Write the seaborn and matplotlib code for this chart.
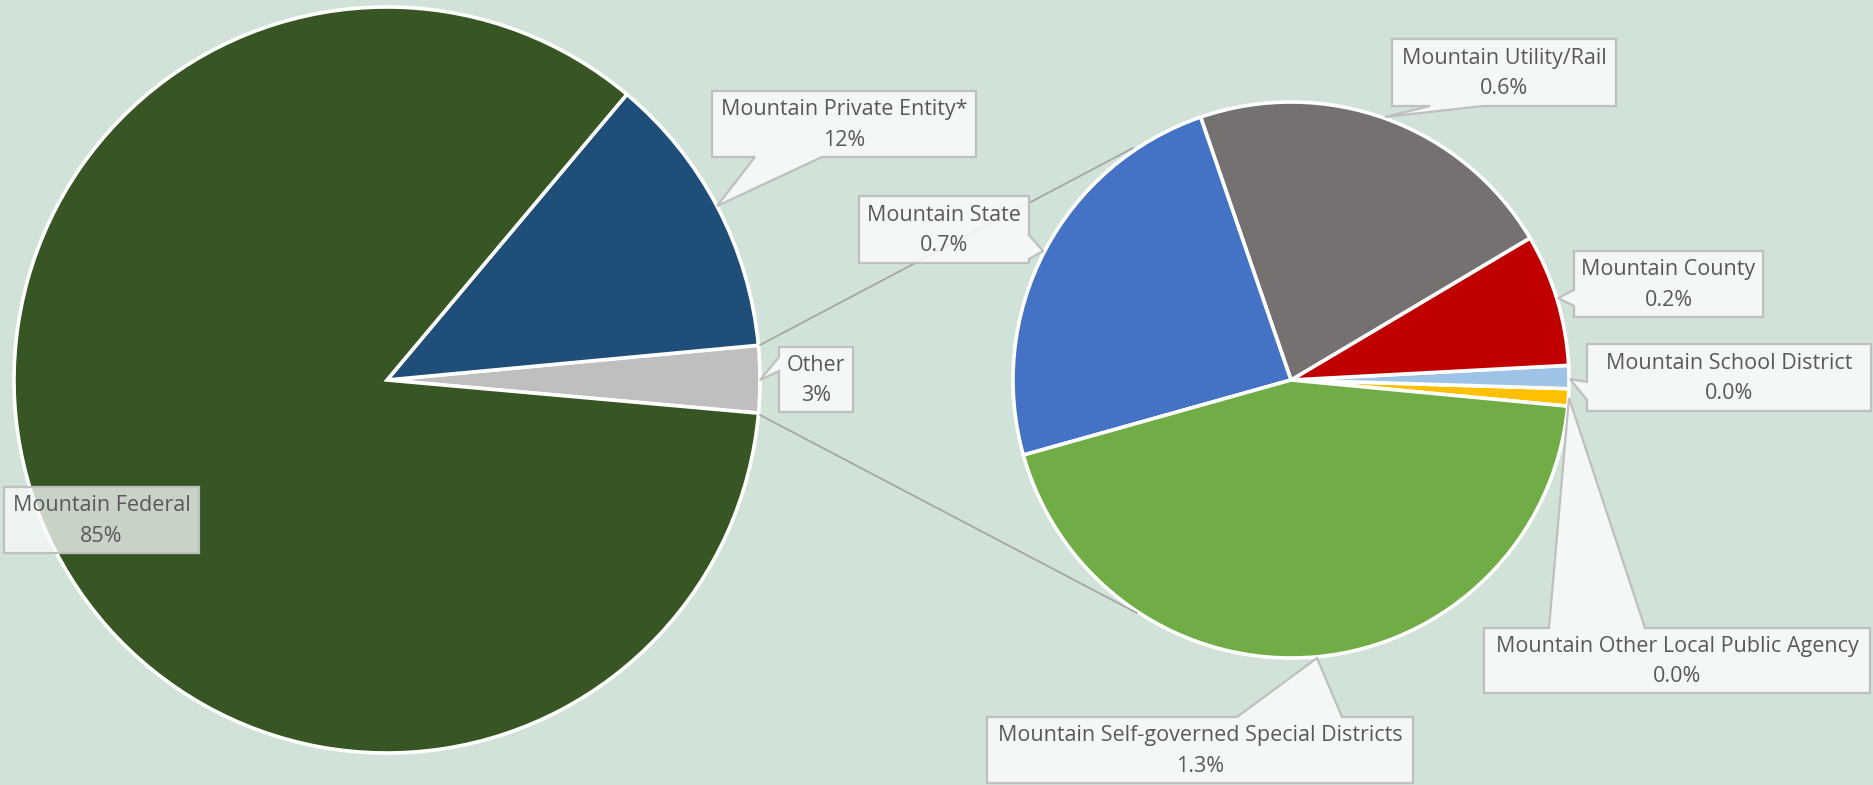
import numpy as np
import matplotlib
matplotlib.use('Agg')
import matplotlib.pyplot as plt
from matplotlib.patches import Polygon
import seaborn as sns

sns.set_theme(style='white')
plt.rcParams['font.family'] = ['Open Sans', 'DejaVu Sans']

# main pie
main_labels = ['Other', 'Mountain Private Entity*', 'Mountain Federal']
main_values = [2.9, 12.4, 84.7]
main_text = ['3%', '12%', '85%']
main_colors = ['#bfbfbf', '#1f4e79', '#375623']

# breakdown of "Other"
sub_labels = ['Mountain Other Local Public Agency', 'Mountain School District', 'Mountain County',
              'Mountain Utility/Rail', 'Mountain State', 'Mountain Self-governed Special Districts']
sub_values = [0.03, 0.04, 0.23, 0.65, 0.72, 1.32]
sub_text = ['0.0%', '0.0%', '0.2%', '0.6%', '0.7%', '1.3%']
sub_colors = ['#ffc000', '#9dc3e6', '#c00000', '#767171', '#4472c4', '#70ad47']

W, H = 1874, 785
BG = '#d1e2d8'

def fy(y):
    return H - y

fig = plt.figure(figsize=(W / 100, H / 100), dpi=100)
fig.patch.set_facecolor(BG)
ax = fig.add_axes([0, 0, 1, 1])
ax.set_facecolor(BG)

wp = dict(edgecolor='white', linewidth=2.6)
ax.pie(main_values, colors=main_colors, startangle=-5.1, counterclock=True,
       center=(387, fy(380)), radius=373, wedgeprops=wp, frame=False)
ax.pie(sub_values, colors=sub_colors, startangle=-5.4, counterclock=True,
       center=(1291, fy(380)), radius=278, wedgeprops=wp, frame=False)
ax.set_xlim(0, W)
ax.set_ylim(0, H)
ax.set_aspect('equal')
ax.axis('off')

# connector lines
for (x0, y0), (x1, y1) in [((760, 345), (1133, 148)), ((760, 415), (1137, 613))]:
    ax.plot([x0, x1], [fy(y0), fy(y1)], color='#a6a6a6', lw=1.3, zorder=3)


def callout(box, side=None, base=None, tip=None):
    x0, y0, x1, y1 = box
    pts = [(x0, y0)]
    if side == 'top':
        pts += [(base[0], y0), tip, (base[1], y0)]
    pts.append((x1, y0))
    if side == 'right':
        pts += [(x1, base[0]), tip, (x1, base[1])]
    pts.append((x1, y1))
    if side == 'bottom':
        pts += [(base[1], y1), tip, (base[0], y1)]
    pts.append((x0, y1))
    if side == 'left':
        pts += [(x0, base[1]), tip, (x0, base[0])]
    return [(x, fy(y)) for x, y in pts]


boxes = {
    'Mountain Private Entity*': ((712, 91, 976, 157), 'bottom', (755, 822), (717, 206)),
    'Other': ((779, 347, 853, 412), 'left', (357, 371), (760, 380)),
    'Mountain Federal': ((4, 487, 199, 553), None, None, None),
    'Mountain State': ((859, 196, 1029, 263), 'right', (235, 259), (1043, 251)),
    'Mountain Utility/Rail': ((1392, 39, 1616, 106), 'bottom', (1430, 1483), (1385, 117)),
    'Mountain County': ((1574, 251, 1763, 317), 'left', (290, 306), (1558, 298)),
    'Mountain School District': ((1587, 344, 1871, 411), 'left', (382, 400), (1570, 379)),
    'Mountain Other Local Public Agency': ((1484, 628, 1870, 693), 'top', (1549, 1645), (1569, 398)),
    'Mountain Self-governed Special Districts': ((987, 717, 1413, 783), 'top', (1237, 1342), (1317, 658)),
}

texts = dict(zip(main_labels, main_text))
texts.update(dict(zip(sub_labels, sub_text)))

for name, (box, side, base, tip) in boxes.items():
    alpha = 0.76 if name == 'Mountain Federal' else 0.88
    poly = Polygon(callout(box, side, base, tip), closed=True,
                   facecolor=(0.972, 0.98, 0.98, alpha),
                   edgecolor='#bfbfbf', linewidth=1.6, zorder=4)
    ax.add_patch(poly)
    cx = (box[0] + box[2]) / 2
    cy = (box[1] + box[3]) / 2 + 1
    ax.text(cx, fy(cy), f'{name}\n{texts[name]}', ha='center', va='center',
            fontsize=15.5, color='#595959', linespacing=1.6, zorder=5)

fig.savefig('out.png', dpi=100, facecolor=BG)
